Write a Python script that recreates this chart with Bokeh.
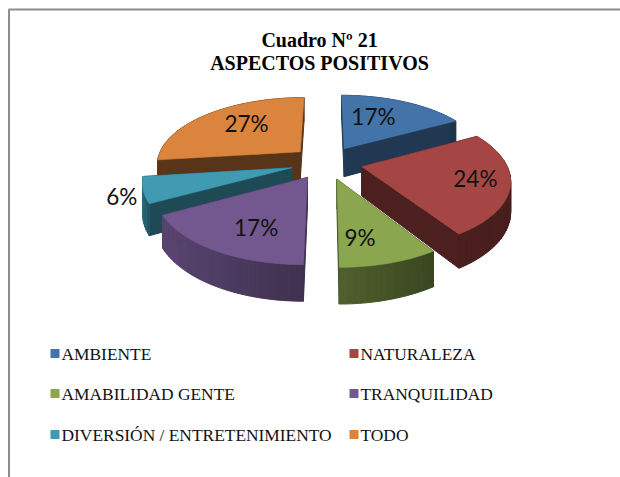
import numpy as np
from bokeh.plotting import figure
from bokeh.models import Range1d
from bokeh.core.properties import value
from bokeh.embed import file_html
from bokeh.resources import INLINE

title_lines = ["Cuadro Nº 21", "ASPECTOS POSITIVOS"]
categories = ["AMBIENTE", "NATURALEZA", "AMABILIDAD GENTE", "TRANQUILIDAD", "DIVERSIÓN / ENTRETENIMIENTO", "TODO"]
values = [17, 24, 9, 17, 6, 27]
colors = ["#4374A9", "#A64644", "#8AA64E", "#72588F", "#3F9AB2", "#DB843D"]
# styling per slice: wall shade (left, right), radial-face shade
wall_left = [0.50, 0.45, 0.58, 0.78, 0.70, 0.42]
wall_right = [0.45, 0.43, 0.42, 0.55, 0.55, 0.38]
face_shade = [0.48, 0.45, 0.45, 0.55, 0.48, 0.40]
# label placement inside each slice: polar angle (deg, clockwise from 12h) and radius fraction
label_ang = [23, 103, 170, 205, 250, 318]
label_r = [0.62, 0.77, 0.72, 0.69, 1.14, 0.64]

# projection
CX, CY, A, B, P, EXPL, DEPTH = 326.0, 162.0, 144.0, 66.7, 0.17, 0.25, 29.0


def proj(X, Y, down=0.0):
    w = 1 + P * Y
    return CX + A * X / w, CY - B * Y / w + down / w


def shade(hexc, f):
    r, g, b = [int(hexc[i:i + 2], 16) for i in (1, 3, 5)]
    return "#%02x%02x%02x" % (round(r * f), round(g * f), round(b * f))


W, H = 620, 477
p = figure(width=W, height=H, output_backend="svg", toolbar_location=None,
           x_range=Range1d(0, W), y_range=Range1d(H, 0), min_border=0)
p.axis.visible = False
p.grid.visible = False
p.outline_line_color = None
p.background_fill_color = "white"

fracs = np.array(values) / sum(values)
ends = np.cumsum(fracs) * 2 * np.pi
starts = ends - fracs * 2 * np.pi

quads = []
tops = []
lab_x, lab_y = [], []
for i, (s, e) in enumerate(zip(starts, ends)):
    m = (s + e) / 2
    ox, oy = EXPL * np.sin(m), EXPL * np.cos(m)
    th = np.linspace(s, e, max(8, int((e - s) * 30)))
    X = ox + np.sin(th)
    Y = oy + np.cos(th)
    col = colors[i]
    sx, sy = proj(X, Y)
    bx, by = proj(X, Y, DEPTH)
    xmin, xmax = sx.min(), sx.max()
    for j in range(len(th) - 1):
        t = ((sx[j] + sx[j + 1]) / 2 - xmin) / max(xmax - xmin, 1)
        f = wall_left[i] + (wall_right[i] - wall_left[i]) * t
        quads.append(((Y[j] + Y[j + 1]) / 2,
                      [sx[j], sx[j + 1], bx[j + 1], bx[j]],
                      [sy[j], sy[j + 1], by[j + 1], by[j]],
                      shade(col, f), i))
    ax0, ay0 = proj(np.array([ox]), np.array([oy]))
    ax1, ay1 = proj(np.array([ox]), np.array([oy]), DEPTH)
    for k in (0, -1):
        quads.append(((oy + Y[k]) / 2 + 0.3,
                      [ax0[0], sx[k], bx[k], ax1[0]],
                      [ay0[0], sy[k], by[k], ay1[0]],
                      shade(col, face_shade[i]), i))
    tops.append(([ax0[0]] + list(sx), [ay0[0]] + list(sy), col))
    la = np.radians(label_ang[i])
    lx, ly = proj(ox + label_r[i] * np.sin(la), oy + label_r[i] * np.cos(la))
    lab_x.append(float(lx))
    lab_y.append(float(ly))

draw_order = [0, 5, 4, 1, 3, 2]
for i in draw_order:
    qs = sorted([q for q in quads if q[4] == i], key=lambda q: -q[0])
    p.patches([q[1] for q in qs], [q[2] for q in qs], fill_color=[q[3] for q in qs],
              line_color=[q[3] for q in qs], line_width=1)
    tx, ty, c = tops[i]
    p.patch(tx, ty, fill_color=c, line_color=c, line_width=0.6)

p.text(lab_x, lab_y, text=[f"{v}%" for v in values], text_font=value("Lato"), text_font_size="22.5px",
       text_color="#111111", text_align="center", text_baseline="middle")

p.text([319, 319], [39, 62], text=title_lines, text_font=value("Liberation Serif"),
       text_font_size="20px", text_font_style="bold", text_color="#000000",
       text_align="center", text_baseline="middle")

leg_col = [50, 349, 50, 349, 50, 349]
leg_row = [353, 353, 393, 393, 434, 434]
p.rect([c + 4.5 for c in leg_col], leg_row, width=9, height=9, fill_color=colors, line_color=None)
p.text([c + 11 for c in leg_col], leg_row, text=categories, text_font=value("Liberation Serif"),
       text_font_size="17.4px", text_color="#111111", text_align="left", text_baseline="middle")

p.line([8.5, 8.5], [477, 9], line_color="#8C8C8C", line_width=2)
p.line([8, 620], [9, 9], line_color="#8C8C8C", line_width=2)

open("out.html", "w").write(file_html(p, INLINE))
